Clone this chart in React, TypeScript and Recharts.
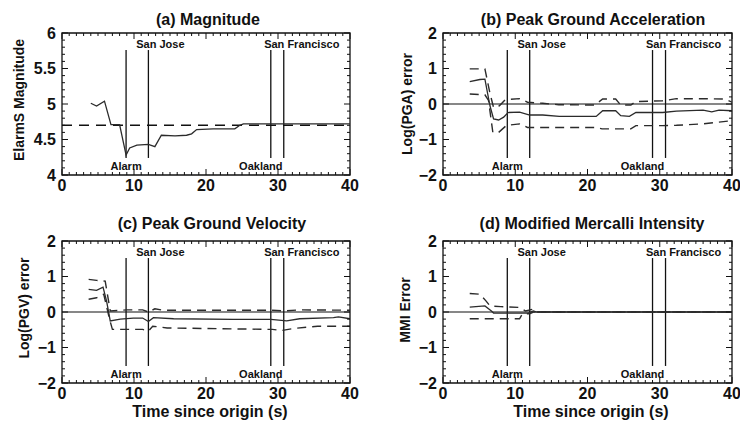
import React from 'react';
import { LineChart, Line, XAxis, YAxis, ReferenceLine, ReferenceArea } from 'recharts';

// ---------- data ----------
const TIME_TICKS = [0, 10, 20, 30, 40];
const MAG_TICKS = [4, 4.5, 5, 5.5, 6];
const ERR_TICKS = [-2, -1, 0, 1, 2];

const EVENT_NAMES = ['Alarm', 'San Jose', 'Oakland', 'San Francisco'];
const EVENT_TIMES = [8.9, 12.0, 29.0, 30.8];
const EVENT_SIDES = ['bottom', 'top', 'bottom', 'top'];

const FINAL_MAGNITUDE = 4.7;

const magnitudeEstimate = [
  { t: 4, v: 5.01 }, { t: 4.8, v: 4.97 }, { t: 5.9, v: 5.04 }, { t: 6.8, v: 4.71 },
  { t: 8, v: 4.71 }, { t: 8.9, v: 4.28 }, { t: 9.4, v: 4.38 }, { t: 10.4, v: 4.42 },
  { t: 12, v: 4.43 }, { t: 12.9, v: 4.4 }, { t: 13.8, v: 4.56 }, { t: 15.7, v: 4.55 },
  { t: 17.3, v: 4.56 }, { t: 18, v: 4.58 }, { t: 18.7, v: 4.64 }, { t: 21, v: 4.65 },
  { t: 24, v: 4.65 }, { t: 24.7, v: 4.7 }, { t: 25.2, v: 4.72 }, { t: 40, v: 4.72 },
];

const pgaMean = [
  { t: 3.7, v: 0.63 }, { t: 5.1, v: 0.69 }, { t: 5.8, v: 0.7 }, { t: 6.5, v: -0.05 },
  { t: 7.0, v: -0.42 }, { t: 7.7, v: -0.45 }, { t: 8.4, v: -0.37 }, { t: 9.0, v: -0.24 },
  { t: 10.6, v: -0.23 }, { t: 12, v: -0.31 }, { t: 13.8, v: -0.31 }, { t: 16.1, v: -0.35 },
  { t: 21.2, v: -0.35 }, { t: 22.1, v: -0.19 }, { t: 23.9, v: -0.19 }, { t: 24.6, v: -0.33 },
  { t: 25.8, v: -0.35 }, { t: 26.7, v: -0.24 }, { t: 30.4, v: -0.24 }, { t: 32.3, v: -0.2 },
  { t: 36, v: -0.17 }, { t: 37.2, v: -0.22 }, { t: 38.2, v: -0.17 }, { t: 40, v: -0.19 },
];
const pgaUpper = [
  { t: 3.7, v: 0.99 }, { t: 5.8, v: 0.99 }, { t: 6.5, v: 0.3 }, { t: 7.0, v: -0.1 },
  { t: 7.8, v: -0.05 }, { t: 8.6, v: 0.12 }, { t: 10.6, v: 0.15 }, { t: 11.7, v: 0.05 },
  { t: 13.8, v: 0.02 }, { t: 16, v: -0.02 }, { t: 21, v: -0.03 }, { t: 22.1, v: 0.14 },
  { t: 23.9, v: 0.14 }, { t: 24.6, v: -0.03 }, { t: 26, v: -0.03 }, { t: 26.7, v: 0.07 },
  { t: 30.4, v: 0.09 }, { t: 32.3, v: 0.15 }, { t: 36, v: 0.15 }, { t: 39, v: 0.14 },
  { t: 40, v: 0.05 },
];
const pgaLower = [
  { t: 3.7, v: 0.28 }, { t: 5.8, v: 0.26 }, { t: 6.3, v: 0.1 }, { t: 6.9, v: -0.8 },
  { t: 7.7, v: -0.8 }, { t: 8.8, v: -0.6 }, { t: 10.6, v: -0.56 }, { t: 11.7, v: -0.66 },
  { t: 16, v: -0.66 }, { t: 21.2, v: -0.66 }, { t: 22, v: -0.7 }, { t: 26, v: -0.7 },
  { t: 26.7, v: -0.61 }, { t: 30.4, v: -0.61 }, { t: 32.3, v: -0.6 }, { t: 36, v: -0.56 },
  { t: 40, v: -0.47 },
];

const pgvMean = [
  { t: 3.7, v: 0.64 }, { t: 4.8, v: 0.61 }, { t: 5.7, v: 0.7 }, { t: 6.2, v: 0.3 },
  { t: 6.7, v: -0.25 }, { t: 8.1, v: -0.2 }, { t: 9.9, v: -0.17 }, { t: 11.2, v: -0.17 },
  { t: 12, v: -0.27 }, { t: 12.7, v: -0.16 }, { t: 15.5, v: -0.19 }, { t: 23.8, v: -0.21 },
  { t: 29, v: -0.21 }, { t: 31.2, v: -0.25 }, { t: 33, v: -0.19 }, { t: 37.7, v: -0.16 },
  { t: 38.4, v: -0.14 }, { t: 40, v: -0.19 },
];
const pgvUpper = [
  { t: 3.7, v: 0.92 }, { t: 4.8, v: 0.89 }, { t: 6, v: 0.87 }, { t: 6.7, v: 0.03 },
  { t: 9, v: 0.06 }, { t: 11.2, v: 0.06 }, { t: 12, v: 0.0 }, { t: 12.9, v: 0.09 },
  { t: 14, v: 0.05 }, { t: 29, v: 0.05 }, { t: 31, v: 0.03 }, { t: 33, v: 0.06 },
  { t: 40, v: 0.05 },
];
const pgvLower = [
  { t: 3.7, v: 0.36 }, { t: 4.8, v: 0.4 }, { t: 5.8, v: 0.5 }, { t: 6.6, v: -0.2 },
  { t: 7, v: -0.49 }, { t: 11.2, v: -0.49 }, { t: 12, v: -0.54 }, { t: 12.6, v: -0.4 },
  { t: 14.6, v: -0.45 }, { t: 29.2, v: -0.49 }, { t: 30.5, v: -0.52 }, { t: 32.3, v: -0.46 },
  { t: 35.5, v: -0.4 }, { t: 40, v: -0.4 },
];

const mmiMean = [
  { t: 3.7, v: 0.14 }, { t: 5.8, v: 0.17 }, { t: 6.7, v: 0.03 }, { t: 7, v: -0.03 },
  { t: 11.8, v: -0.03 }, { t: 12.5, v: 0.03 }, { t: 13, v: 0 }, { t: 40, v: 0 },
];
const mmiUpper = [
  { t: 3.7, v: 0.52 }, { t: 5.1, v: 0.5 }, { t: 6, v: 0.3 }, { t: 6.5, v: 0.17 },
  { t: 8, v: 0.15 }, { t: 10.5, v: 0.13 }, { t: 11.4, v: 0.03 }, { t: 12.5, v: 0.08 },
  { t: 13, v: 0 }, { t: 40, v: 0 },
];
const mmiLower = [
  { t: 3.7, v: -0.19 }, { t: 10.6, v: -0.19 }, { t: 11, v: -0.05 }, { t: 12, v: -0.05 },
  { t: 12.5, v: 0 }, { t: 40, v: 0 },
];

// ---------- styles ----------
const FONT = '"Liberation Sans", Arial, Helvetica, sans-serif';
const INK = '#111';
const LINE_COLOR = '#2b2b2b';
const DASH = '9 6';
const X_AXIS_H = 30;
const TICK_FONT = 16;
const EVENT_LABEL_DX: Record<string, number> = { 'Alarm': 0, 'San Jose': 12, 'Oakland': -10, 'San Francisco': 18 };

const fmtNum = (v: number) => (v < 0 ? '\u2212' + String(Math.abs(v)) : String(v));

function steps(lo: number, hi: number, step: number) {
  const out: number[] = [];
  const n = Math.round((hi - lo) / step);
  for (let i = 0; i <= n; i++) out.push(Math.round((lo + i * step) * 1000) / 1000);
  return out;
}
const isMajor = (v: number, majors: number[]) => majors.some((m) => Math.abs(m - v) < 1e-6);

type Pt = { t: number; v: number };
type PanelCfg = {
  left: number; top: number; width: number; height: number;
  margin: { top: number; right: number; bottom: number; left: number };
  yWidth: number;
  domain: [number, number];
  yTicks: number[];
  yMinorStep: number;
  mean: Pt[];
  upper?: Pt[];
  lower?: Pt[];
  hLine: number;
  hDashed: boolean;
};

function eventLabel(name: string, side: string) {
  return (props: any) => {
    const vb = props.viewBox || {};
    const cx = (vb.x || 0) + (vb.width || 0) / 2 + (EVENT_LABEL_DX[name] || 0);
    const y = side === 'top' ? (vb.y || 0) - 2 : (vb.y || 0) + (vb.height || 0) + 12;
    return (
      <text x={cx} y={y} textAnchor="middle" fontFamily={FONT} fontSize={11} fontWeight="bold" fill={INK}>
        {name}
      </text>
    );
  };
}

// x tick: label for majors + inward tick marks on bottom and top frame edges
function makeXTick(plotH: number) {
  return (props: any) => {
    const { x, y, payload } = props;
    const v = payload.value;
    const major = isMajor(v, TIME_TICKS);
    const len = major ? 6 : 3;
    return (
      <g>
        <line x1={x} x2={x} y1={y} y2={y - len} stroke={INK} strokeWidth={1} />
        <line x1={x} x2={x} y1={y - plotH} y2={y - plotH + len} stroke={INK} strokeWidth={1} />
        {major && (
          <text x={x} y={y + 4} dy="0.74em" textAnchor="middle" fontFamily={FONT} fontSize={TICK_FONT} fontWeight="bold" fill={INK}>
            {fmtNum(v)}
          </text>
        )}
      </g>
    );
  };
}

function makeYTick(plotW: number, majors: number[]) {
  return (props: any) => {
    const { x, y, payload } = props;
    const v = payload.value;
    const major = isMajor(v, majors);
    const len = major ? 6 : 3;
    return (
      <g>
        <line x1={x} x2={x + len} y1={y} y2={y} stroke={INK} strokeWidth={1} />
        <line x1={x + plotW} x2={x + plotW - len} y1={y} y2={y} stroke={INK} strokeWidth={1} />
        {major && (
          <text x={x - 6} y={y} dy="0.36em" textAnchor="end" fontFamily={FONT} fontSize={TICK_FONT} fontWeight="bold" fill={INK}>
            {fmtNum(v)}
          </text>
        )}
      </g>
    );
  };
}

function Panel({ cfg }: { cfg: PanelCfg }) {
  const [lo, hi] = cfg.domain;
  const span = hi - lo;
  const segLo = lo + 0.12 * span;
  const segHi = hi - 0.12 * span;
  const xMinor = steps(0, 40, 1);
  const yMinor = steps(lo, hi, cfg.yMinorStep);
  const plotW = cfg.width - cfg.margin.left - cfg.margin.right - cfg.yWidth;
  const plotH = cfg.height - cfg.margin.top - cfg.margin.bottom - X_AXIS_H;
  return (
    <div style={{ position: 'absolute', left: cfg.left, top: cfg.top }}>
      <LineChart width={cfg.width} height={cfg.height} margin={cfg.margin}>
        <XAxis xAxisId="x" dataKey="t" type="number" domain={[0, 40]} ticks={xMinor} interval={0}
          allowDataOverflow tickLine={false} tickSize={0} tickMargin={0} axisLine={false}
          tick={makeXTick(plotH)} height={X_AXIS_H} />
        <YAxis yAxisId="y" type="number" domain={cfg.domain} ticks={yMinor} interval={0} allowDataOverflow
          width={cfg.yWidth} tickLine={false} tickSize={0} tickMargin={0} axisLine={false}
          tick={makeYTick(plotW, cfg.yTicks)} />

        <ReferenceArea xAxisId="x" yAxisId="y" x1={0} x2={40} y1={lo} y2={hi} fill="none" fillOpacity={0}
          stroke={INK} strokeWidth={1.3} ifOverflow="visible" />

        <ReferenceLine xAxisId="x" yAxisId="y" y={cfg.hLine} stroke={INK} strokeWidth={cfg.hDashed ? 1.4 : 1.2}
          strokeDasharray={cfg.hDashed ? '10 7' : undefined} />

        {EVENT_NAMES.map((name, i) => (
          <ReferenceLine key={name} xAxisId="x" yAxisId="y"
            segment={[{ x: EVENT_TIMES[i], y: segHi }, { x: EVENT_TIMES[i], y: segLo }]}
            stroke={INK} strokeWidth={1.3}
            label={eventLabel(name, EVENT_SIDES[i])} />
        ))}

        {cfg.upper && (
          <Line xAxisId="x" yAxisId="y" data={cfg.upper} dataKey="v" type="linear" dot={false} activeDot={false}
            stroke={LINE_COLOR} strokeWidth={1.4} strokeDasharray={DASH} isAnimationActive={false} />
        )}
        {cfg.lower && (
          <Line xAxisId="x" yAxisId="y" data={cfg.lower} dataKey="v" type="linear" dot={false} activeDot={false}
            stroke={LINE_COLOR} strokeWidth={1.4} strokeDasharray={DASH} isAnimationActive={false} />
        )}
        <Line xAxisId="x" yAxisId="y" data={cfg.mean} dataKey="v" type="linear" dot={false} activeDot={false}
          stroke={LINE_COLOR} strokeWidth={1.3} isAnimationActive={false} />
      </LineChart>
    </div>
  );
}

const panels: PanelCfg[] = [
  {
    left: 0, top: 0, width: 370, height: 210, margin: { top: 33, right: 20, bottom: 5, left: 0 }, yWidth: 62,
    domain: [4, 6], yTicks: MAG_TICKS, yMinorStep: 0.1, mean: magnitudeEstimate, hLine: FINAL_MAGNITUDE, hDashed: true,
  },
  {
    left: 370, top: 0, width: 370, height: 210, margin: { top: 33, right: 8, bottom: 5, left: 0 }, yWidth: 73,
    domain: [-2, 2], yTicks: ERR_TICKS, yMinorStep: 0.2, mean: pgaMean, upper: pgaUpper, lower: pgaLower, hLine: 0, hDashed: false,
  },
  {
    left: 0, top: 210, width: 370, height: 213, margin: { top: 31, right: 20, bottom: 10, left: 0 }, yWidth: 62,
    domain: [-2, 2], yTicks: ERR_TICKS, yMinorStep: 0.2, mean: pgvMean, upper: pgvUpper, lower: pgvLower, hLine: 0, hDashed: false,
  },
  {
    left: 370, top: 210, width: 370, height: 213, margin: { top: 31, right: 8, bottom: 10, left: 0 }, yWidth: 73,
    domain: [-2, 2], yTicks: ERR_TICKS, yMinorStep: 0.2, mean: mmiMean, upper: mmiUpper, lower: mmiLower, hLine: 0, hDashed: false,
  },
];

const TITLES = ['(a) Magnitude', '(b) Peak Ground Acceleration', '(c) Peak Ground Velocity', '(d) Modified Mercalli Intensity'];
const Y_LABELS = ['ElarmS Magnitude', 'Log(PGA) error', 'Log(PGV) error', 'MMI Error'];
const X_LABEL = 'Time since origin (s)';

const titlePos = [[208, 25], [593, 25], [212, 229], [592, 229]];
const yLabelPos = [[24, 100], [412, 104], [29, 308], [410, 310]];
const xLabelPos = [[210, 417], [591, 417]];

export default function App() {
  return (
    <div style={{ position: 'absolute', left: 0, top: 0, width: 740, height: 423, background: '#fff', overflow: 'hidden' }}>
      {panels.map((p, i) => <Panel key={i} cfg={p} />)}
      <svg width={740} height={423} style={{ position: 'absolute', left: 0, top: 0, pointerEvents: 'none' }}>
        {TITLES.map((t, i) => (
          <text key={t} x={titlePos[i][0]} y={titlePos[i][1]} textAnchor="middle" fontFamily={FONT}
            fontSize={16} fontWeight="bold" fill={INK}>{t}</text>
        ))}
        {Y_LABELS.map((t, i) => (
          <text key={t} transform={`translate(${yLabelPos[i][0]},${yLabelPos[i][1]}) rotate(-90)`} textAnchor="middle"
            fontFamily={FONT} fontSize={14} fontWeight="bold" fill={INK}>{t}</text>
        ))}
        {xLabelPos.map((p, i) => (
          <text key={i} x={p[0]} y={p[1]} textAnchor="middle" fontFamily={FONT} fontSize={16} fontWeight="bold"
            fill={INK}>{X_LABEL}</text>
        ))}
      </svg>
    </div>
  );
}
